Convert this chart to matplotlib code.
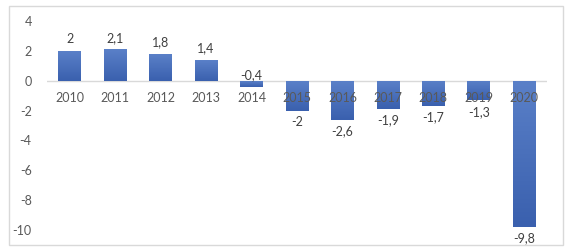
import matplotlib.pyplot as plt
import numpy as np
from matplotlib.colors import LinearSegmentedColormap
from matplotlib.patches import Rectangle

years = ['2010', '2011', '2012', '2013', '2014', '2015',
         '2016', '2017', '2018', '2019', '2020']
values = [2, 2.1, 1.8, 1.4, -0.4, -2, -2.6, -1.9, -1.7, -1.3, -9.8]
yticks = [4, 2, 0, -2, -4, -6, -8, -10]

plt.rcParams['font.family'] = ['Lato', 'DejaVu Sans']

fig = plt.figure(figsize=(5.67, 2.47), dpi=100)
ax = fig.add_axes([47 / 567, 1 - 230 / 247, 500 / 567, 209 / 247])

x = np.arange(len(years))
bars = ax.bar(x, values, width=0.5, color='#4a6fbc', zorder=2)

# vertical gradient fill, lighter at top
cmap = LinearSegmentedColormap.from_list('g', ['#3a60ae', '#5a80c8'])
grad = np.linspace(0, 1, 64).reshape(-1, 1)
for b in bars:
    x0, y0 = b.get_x(), b.get_y()
    w, h = b.get_width(), b.get_height()
    lo, hi = min(y0, y0 + h), max(y0, y0 + h)
    im = ax.imshow(grad, cmap=cmap, aspect='auto', origin='lower',
                   extent=(x0, x0 + w, lo, hi), zorder=2.1)
    im.set_clip_path(b)

ax.set_xlim(-0.5, len(years) - 0.5)
ax.set_ylim(-10, 4)
ax.axhline(0, color='#d9d9d9', lw=1, zorder=1)

for s in ax.spines.values():
    s.set_visible(False)

ax.set_yticks(yticks)
ax.set_yticklabels([str(t) for t in yticks])
ax.tick_params(axis='y', length=0, pad=11, labelsize=9, labelcolor='#595959')
ax.set_xticks([])

for i, yr in enumerate(years):
    ax.annotate(yr, (i, 0), xytext=(0, -8), textcoords='offset points',
                ha='center', va='top', fontsize=9, color='#595959', zorder=5)

for i, v in enumerate(values):
    lab = ('%g' % v).replace('.', ',')
    if v >= 0:
        ax.annotate(lab, (i, v), xytext=(0, 4), textcoords='offset points',
                    ha='center', va='bottom', fontsize=9, color='#404040')
    elif v > -1:
        # small negative: Excel put this label just above the zero line
        ax.annotate(lab, (i, 0), xytext=(0, 0), textcoords='offset points',
                    ha='center', va='bottom', fontsize=9, color='#404040')
    else:
        ax.annotate(lab, (i, v), xytext=(0, -4), textcoords='offset points',
                    ha='center', va='top', fontsize=9, color='#404040')

fig.patches.append(Rectangle((9 / 567, 2 / 247), 554 / 567, 239 / 247,
                             transform=fig.transFigure, fill=False,
                             edgecolor='#d9d9d9', lw=1))

fig.savefig('out.png', dpi=100)
